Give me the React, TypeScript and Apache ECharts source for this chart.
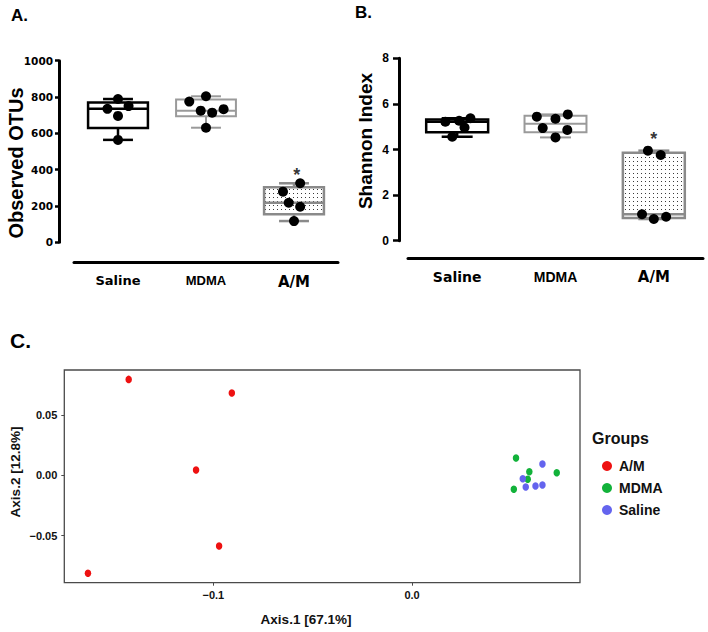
import React, { useEffect, useRef } from "react";
import * as echarts from "echarts";

// ---------- DATA ----------
const groups = ["Saline", "MDMA", "A/M"];

// Panel A: Observed OTUs (individual animals)
const otuSaline = [789, 735, 750, 696, 564];
const otuMDMA = [775, 804, 725, 714, 733, 631];
const otuAM = [325, 279, 218, 196, 117];
// horizontal scatter offsets (category units)
const otuJitter = [
  [0, -0.12, 0.12, 0, 0],
  [-0.19, 0, -0.06, 0.07, 0.2, 0],
  [0.07, -0.125, -0.06, 0.07, 0],
];
// box stats [min, Q1, median, Q3, max]
const otuBoxSaline = [564, 630, 735, 770, 789];
const otuBoxMDMA = [631, 694, 724, 786, 804];
const otuBoxAM = [117, 154, 218, 303, 325];

// Panel B: Shannon index
const shanSaline = [5.22, 5.26, 5.37, 4.96, 4.56];
const shanMDMA = [5.44, 5.35, 5.54, 4.94, 4.86, 4.53];
const shanAM = [3.95, 3.76, 1.16, 0.95, 1.05];
const shanJitter = [
  [-0.12, 0.02, 0.135, 0.075, -0.05],
  [-0.19, 0, 0.125, -0.13, 0.12, 0],
  [-0.06, 0.07, -0.12, 0, 0.125],
];
const shanBoxSaline = [4.56, 4.76, 5.22, 5.32, 5.37];
const shanBoxMDMA = [4.53, 4.76, 5.13, 5.48, 5.54];
const shanBoxAM = [0.95, 1.0, 1.16, 3.86, 3.95];

// Panel C: PCoA coordinates [Axis.1, Axis.2]
const pcoaAM = [
  [-0.1426, 0.0797],
  [-0.0907, 0.0684],
  [-0.1087, 0.0044],
  [-0.0971, -0.0587],
  [-0.1631, -0.0814],
];
const pcoaMDMA = [
  [0.0523, 0.0144],
  [0.059, 0.003],
  [0.0582, -0.0033],
  [0.0728, 0.0022],
  [0.0512, -0.0116],
];
const pcoaSaline = [
  [0.0656, 0.0094],
  [0.0557, -0.0028],
  [0.0572, -0.0097],
  [0.0621, -0.0089],
  [0.0656, -0.0081],
];
const pcoaGroups = ["A/M", "MDMA", "Saline"];

const otuTicks = { min: 0, max: 1000, interval: 200 };
const shanTicks = { min: 0, max: 8, interval: 2 };
const pcX = { min: -0.175, max: 0.0845, ticks: [-0.1, 0.0] };
const pcY = { min: -0.0892, max: 0.0875, ticks: [-0.05, 0.0, 0.05] };

// ---------- STYLES ----------
const boxColors = ["#000000", "#9a9a9a", "#8a8a8a"];
const boxLineW = [2.5, 2, 2.5];
const pcColors = ["#ee1111", "#12b23a", "#6464ee"];
const FONT = "'Liberation Sans', Arial, Helvetica, sans-serif";

function dotPattern() {
  const c = document.createElement("canvas");
  c.width = 4;
  c.height = 4;
  const ctx = c.getContext("2d");
  if (ctx) {
    ctx.fillStyle = "#ffffff";
    ctx.fillRect(0, 0, 4, 4);
    ctx.fillStyle = "#3a3a3a";
    ctx.fillRect(1, 1, 1, 1);
  }
  return { image: c.toDataURL(), repeat: "repeat", imageWidth: 4, imageHeight: 4 };
}

function boxRenderer(boxW: number, capFrac: number, fills: any[]) {
  return (params: any, api: any) => {
    const i = api.value(0);
    const p = [1, 2, 3, 4, 5].map((k) => api.coord([i, api.value(k)]));
    const cx = p[0][0];
    const w = api.size([boxW, 0])[0];
    const cw = w * capFrac;
    const color = boxColors[i];
    const lw = boxLineW[i];
    const ls = { stroke: color, lineWidth: lw, fill: null };
    return {
      type: "group",
      children: [
        { type: "line", shape: { x1: cx, y1: p[3][1], x2: cx, y2: p[4][1] }, style: ls },
        { type: "line", shape: { x1: cx, y1: p[1][1], x2: cx, y2: p[0][1] }, style: ls },
        { type: "line", shape: { x1: cx - cw / 2, y1: p[4][1], x2: cx + cw / 2, y2: p[4][1] }, style: ls },
        { type: "line", shape: { x1: cx - cw / 2, y1: p[0][1], x2: cx + cw / 2, y2: p[0][1] }, style: ls },
        {
          type: "rect",
          shape: { x: cx - w / 2, y: p[3][1], width: w, height: p[1][1] - p[3][1] },
          style: { fill: fills[i], stroke: color, lineWidth: lw },
        },
        { type: "line", shape: { x1: cx - w / 2, y1: p[2][1], x2: cx + w / 2, y2: p[2][1] }, style: ls },
      ],
    };
  };
}

const catLabelRich = (sizes: number[]) => ({
  c0: { fontFamily: "'DejaVu Sans', sans-serif", fontWeight: "bold", fontSize: sizes[0], color: "#000" },
  c1: { fontFamily: FONT, fontWeight: "bold", fontSize: sizes[1], color: "#000" },
  c2: { fontFamily: "'DejaVu Sans', sans-serif", fontWeight: "bold", fontSize: sizes[2], color: "#000" },
});

function buildOption() {
  const pattern = dotPattern();
  const fills = ["#ffffff", "#ffffff", pattern];

  const otuValues = [otuSaline, otuMDMA, otuAM];
  const otuBoxes = [otuBoxSaline, otuBoxMDMA, otuBoxAM];
  const shanValues = [shanSaline, shanMDMA, shanAM];
  const shanBoxes = [shanBoxSaline, shanBoxMDMA, shanBoxAM];

  const otuPts = otuValues.flatMap((vals, gi) => vals.map((v, k) => [gi + otuJitter[gi][k], v]));
  const shanPts = shanValues.flatMap((vals, gi) => vals.map((v, k) => [gi + shanJitter[gi][k], v]));

  const catAxis = (gridIndex: number, offset: number, margin: number, sizes: number[], tickLen: number) => ({
    type: "category",
    gridIndex,
    data: groups,
    position: "bottom",
    offset,
    axisLine: { onZero: false, lineStyle: { color: "#000", width: 3 } },
    axisTick: { alignWithLabel: true, length: tickLen, lineStyle: { color: "#000", width: 2.5 } },
    axisLabel: {
      margin,
      interval: 0,
      formatter: (v: string, i: number) => `{c${i}|${v}}`,
      rich: catLabelRich(sizes),
    },
  });
  const hiddenX = (gridIndex: number) => ({
    type: "value",
    gridIndex,
    min: -0.5,
    max: 2.5,
    show: false,
    axisLine: { onZero: false },
  });

  const sigLabel = (distance: number) => ({
    show: true,
    position: "top",
    distance,
    formatter: "*",
    fontSize: 18,
    fontWeight: "bold",
    color: "#000",
  });

  return {
    animation: false,
    textStyle: { fontFamily: FONT },
    grid: [
      { left: 74, top: 60.7, width: 264, height: 181.6, containLabel: false, outerBoundsMode: "none" },
      { left: 408, top: 58.3, width: 295, height: 182.4, containLabel: false, outerBoundsMode: "none" },
      {
        left: 64.3,
        top: 370,
        width: 515.7,
        height: 212.7,
        containLabel: false,
        outerBoundsMode: "none",
        show: true,
        borderColor: "#4a4a4a",
        borderWidth: 1.3,
        backgroundColor: "transparent",
      },
    ],
    xAxis: [
      catAxis(0, 20, 12, [13, 13, 15], 5),
      hiddenX(0),
      catAxis(1, 18, 11, [14, 14, 15], 6),
      hiddenX(1),
      {
        type: "value",
        gridIndex: 2,
        min: pcX.min,
        max: pcX.max,
        axisLine: { show: false, onZero: false },
        splitLine: { show: false },
        axisTick: { show: true, length: 3, customValues: pcX.ticks, lineStyle: { color: "#4a4a4a", width: 1 } },
        axisLabel: {
          customValues: pcX.ticks,
          margin: 7,
          fontSize: 11,
          fontWeight: "bold",
          color: "#111",
          formatter: (v: number) => (v < 0 ? "\u2212" : "") + Math.abs(v).toFixed(1),
        },
      },
    ],
    yAxis: [
      {
        type: "value",
        gridIndex: 0,
        ...otuTicks,
        offset: 15,
        axisLine: { show: true, onZero: false, lineStyle: { color: "#000", width: 3 } },
        axisTick: { show: true, length: 4, lineStyle: { color: "#000", width: 2.5 } },
        splitLine: { show: false },
        axisLabel: {
          margin: 6,
          fontFamily: "'DejaVu Sans', sans-serif",
          fontSize: 10.5,
          fontWeight: "bold",
          color: "#000",
          formatter: (v: number) => String(v),
        },
      },
      {
        type: "value",
        gridIndex: 1,
        ...shanTicks,
        offset: 9,
        axisLine: { show: true, onZero: false, lineStyle: { color: "#000", width: 3 } },
        axisTick: { show: true, length: 6, lineStyle: { color: "#000", width: 2.5 } },
        splitLine: { show: false },
        axisLabel: { margin: 10, fontSize: 12, fontWeight: "bold", color: "#000", formatter: (v: number) => String(v) },
      },
      {
        type: "value",
        gridIndex: 2,
        min: pcY.min,
        max: pcY.max,
        axisLine: { show: false, onZero: false },
        splitLine: { show: false },
        axisTick: { show: true, length: 3, customValues: pcY.ticks, lineStyle: { color: "#4a4a4a", width: 1 } },
        axisLabel: {
          customValues: pcY.ticks,
          margin: 7,
          fontSize: 11,
          fontWeight: "bold",
          color: "#111",
          formatter: (v: number) => (v < 0 ? "\u2212" : "") + Math.abs(v).toFixed(2),
        },
      },
    ],
    legend: {
      data: pcoaGroups,
      orient: "vertical",
      left: 597,
      top: 454,
      icon: "circle",
      itemWidth: 10,
      itemHeight: 10,
      itemGap: 8,
      textStyle: { fontSize: 14, fontWeight: "bold", color: "#111", lineHeight: 14, padding: [0, 0, 0, 2] },
    },
    series: [
      {
        type: "custom",
        name: "otuBox",
        xAxisIndex: 1,
        yAxisIndex: 0,
        z: 2,
        renderItem: boxRenderer(0.68, 0.5, fills),
        data: otuBoxes.map((b, i) => [i, ...b]),
        encode: { x: 0, y: [1, 2, 3, 4, 5] },
        silent: true,
      },
      {
        type: "scatter",
        name: "otuPts",
        xAxisIndex: 1,
        yAxisIndex: 0,
        z: 3,
        symbolSize: 10,
        itemStyle: { color: "#000", opacity: 1 },
        data: otuPts,
      },
      {
        type: "scatter",
        name: "otuSig",
        xAxisIndex: 1,
        yAxisIndex: 0,
        z: 3,
        symbolSize: 1,
        itemStyle: { color: "rgba(0,0,0,0)" },
        label: sigLabel(-1),
        data: [[2 + 0.03, Math.max(...otuAM)]],
      },
      {
        type: "custom",
        name: "shanBox",
        xAxisIndex: 3,
        yAxisIndex: 1,
        z: 2,
        renderItem: boxRenderer(0.63, 0.5, fills),
        data: shanBoxes.map((b, i) => [i, ...b]),
        encode: { x: 0, y: [1, 2, 3, 4, 5] },
        silent: true,
      },
      {
        type: "scatter",
        name: "shanPts",
        xAxisIndex: 3,
        yAxisIndex: 1,
        z: 3,
        symbolSize: 10,
        itemStyle: { color: "#000", opacity: 1 },
        data: shanPts,
      },
      {
        type: "scatter",
        name: "shanSig",
        xAxisIndex: 3,
        yAxisIndex: 1,
        z: 3,
        symbolSize: 1,
        itemStyle: { color: "rgba(0,0,0,0)" },
        label: sigLabel(2),
        data: [[2, Math.max(...shanAM)]],
      },
      ...[pcoaAM, pcoaMDMA, pcoaSaline].map((d, i) => ({
        type: "scatter",
        name: pcoaGroups[i],
        xAxisIndex: 4,
        yAxisIndex: 2,
        symbol: "circle",
        symbolSize: [6.5, 7.5],
        itemStyle: { color: pcColors[i], opacity: 1 },
        data: d,
      })),
    ],
    graphic: [
      { type: "text", x: 11, y: 15, style: { text: "A.", font: `bold 17px ${FONT}`, fill: "#000", verticalAlign: "middle" } },
      { type: "text", x: 355, y: 12.5, style: { text: "B.", font: `bold 17px ${FONT}`, fill: "#000", verticalAlign: "middle" } },
      { type: "text", x: 10, y: 340.5, style: { text: "C.", font: `bold 21px ${FONT}`, fill: "#000", verticalAlign: "middle" } },
      {
        type: "text",
        x: 16,
        y: 163,
        rotation: Math.PI / 2,
        style: { text: "Observed OTUs", font: `bold 20px ${FONT}`, fill: "#000", align: "center", verticalAlign: "middle" },
      },
      {
        type: "text",
        x: 365,
        y: 141,
        rotation: Math.PI / 2,
        style: { text: "Shannon Index", font: `bold 19px ${FONT}`, fill: "#000", align: "center", verticalAlign: "middle" },
      },
      {
        type: "text",
        x: 306,
        y: 619,
        style: { text: "Axis.1 [67.1%]", font: `bold 13.5px ${FONT}`, fill: "#111", align: "center", verticalAlign: "middle" },
      },
      {
        type: "text",
        x: 15,
        y: 472,
        rotation: Math.PI / 2,
        style: { text: "Axis.2 [12.8%]", font: `bold 13.5px ${FONT}`, fill: "#111", align: "center", verticalAlign: "middle" },
      },
      {
        type: "text",
        x: 592,
        y: 438,
        style: { text: "Groups", font: `bold 16px ${FONT}`, fill: "#111", verticalAlign: "middle" },
      },
    ],
  };
}

export default function App() {
  const ref = useRef<HTMLDivElement>(null);
  useEffect(() => {
    if (!ref.current) return;
    const chart = echarts.init(ref.current, null, { renderer: "svg" });
    chart.setOption(buildOption() as any);
    return () => chart.dispose();
  }, []);
  return (
    <div
      ref={ref}
      style={{ position: "absolute", left: 0, top: 0, width: 708, height: 632, background: "#fff" }}
    />
  );
}
